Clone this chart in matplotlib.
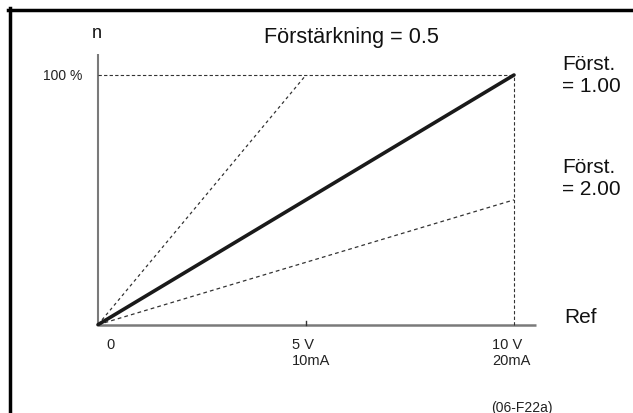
import matplotlib
matplotlib.use("Agg")
import matplotlib.pyplot as plt

# Reference signal (V) and speed (%) for each gain curve
gain_main_x = [0, 10]
gain_main_y = [0, 100]
gain_steep_x = [0, 5]
gain_steep_y = [0, 100]
gain_low_x = [0, 10]
gain_low_y = [0, 50]
tick_pos = [0, 5, 10]
tick_labels = ["0", "5 V\n10mA", "10 V\n20mA"]

W, H = 633, 414
fig = plt.figure(figsize=(W / 100, H / 100), dpi=100)
fig.patch.set_facecolor("white")

x0, x10 = 98, 514
y0, y100 = 325.7, 76
ax = fig.add_axes([x0 / W, (H - y0) / H, (x10 - x0) / W, (y0 - y100) / H])
ax.set_xlim(0, 10)
ax.set_ylim(0, 100)
ax.axis("off")

FONT = "Liberation Sans"
axis_col = "#7a7a7a"
dot_col = "#333333"

# axes
ax.plot([0, 0], [0, 108.4], color=axis_col, lw=1.5, clip_on=False, solid_capstyle="butt")
ax.plot([0, 10.53], [0, 0], color=axis_col, lw=1.8, clip_on=False, solid_capstyle="butt")
ax.plot([5, 5], [0, 1.6], color="#333333", lw=1.0, clip_on=False)

# guide lines
ax.plot([0, 10], [100, 100], color=dot_col, lw=0.8, ls=(0, (3, 2)), clip_on=False)
ax.plot([10, 10], [0, 100], color=dot_col, lw=0.8, ls=(0, (3, 2)), clip_on=False)

# gain curves
ax.plot(gain_steep_x, gain_steep_y, color=dot_col, lw=0.9, ls=(0, (2.5, 2.5)), clip_on=False)
ax.plot(gain_low_x, gain_low_y, color=dot_col, lw=0.9, ls=(0, (3, 2.5)), clip_on=False)
ax.plot(gain_main_x, gain_main_y, color="#1a1a1a", lw=2.6, clip_on=False, solid_capstyle="round")

# tick labels
offsets = [0.3, -0.33, -0.53]
aligns = ["center", "left", "left"]
for pos, lab, off, al in zip(tick_pos, tick_labels, offsets, aligns):
    ax.text(pos + off, -5.0, lab, fontsize=10.5, family=FONT, color="#222222",
            ha=al, va="top", linespacing=1.2)

def ftext(x, y, s, **kw):
    fig.text(x / W, 1 - y / H, s, family=FONT, **kw)

ftext(82, 76, "100 %", fontsize=10, ha="right", va="center", color="#222222")
ftext(97, 33, "n", fontsize=13, ha="center", va="center", color="#111111")
ftext(351, 38, "Förstärkning = 0.5", fontsize=15.6, ha="center", va="center", color="#111111")
ftext(562, 92, "Först.\n= 1.00", fontsize=15, ha="left", va="baseline",
      linespacing=1.2, color="#111111")
ftext(562, 195, "Först.\n= 2.00", fontsize=15, ha="left", va="baseline",
      linespacing=1.2, color="#111111")
ftext(564, 318, "Ref", fontsize=15, ha="left", va="center", color="#111111")
ftext(491, 408, "(06-F22a)", fontsize=10, ha="left", va="center", color="#222222")

# frame edges
fig.add_artist(plt.Line2D([9.5 / W, 9.5 / W], [0, 1 - 9 / H], color="black", lw=2.5,
                          transform=fig.transFigure))
fig.add_artist(plt.Line2D([8.3 / W, 1], [1 - 10.5 / H, 1 - 10.5 / H], color="black", lw=2.5,
                          transform=fig.transFigure))

fig.savefig("out.png", dpi=100)
